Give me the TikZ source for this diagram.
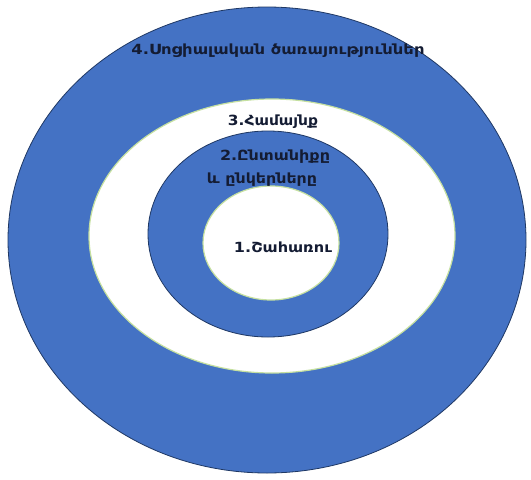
\documentclass[tikz,border=0pt]{standalone}
\usepackage{fontspec}
\setmainfont{DejaVu Sans}
\usepackage{graphicx}
\definecolor{ringblue}{HTML}{4472C4}
\definecolor{navy}{HTML}{1F3864}
\definecolor{edgegreen}{HTML}{C5E0A0}
\definecolor{txtdark}{HTML}{141C33}
\begin{document}
\begin{tikzpicture}[x=1pt,y=-1pt,
  bluering/.style={fill=ringblue,draw=navy,line width=0.8pt},
  whitering/.style={fill=white,draw=edgegreen,line width=1.2pt},
  lbl/.style={inner sep=0pt,text=txtdark,font=\bfseries\fontsize{14}{16}\selectfont}]
\useasboundingbox (0,0) rectangle (531,480);
\fill[white] (0,0) rectangle (531,480);
\path[bluering] (267,240) ellipse [x radius=259,y radius=233];
\path[whitering] (272,236) ellipse [x radius=183,y radius=137];
\path[bluering] (268,234) ellipse [x radius=120,y radius=103];
\path[whitering] (271,243) ellipse [x radius=68,y radius=57];
\node[lbl] (t4) at (278,51) {\resizebox{293pt}{\height}{4.Սոցիալական ծառայություններ}};
\node[lbl] (t3) at (273,122) {\resizebox{90pt}{\height}{3.Համայնք}};
\node[lbl] (t2a) at (275,157) {\resizebox{110pt}{\height}{2.Ընտանիքը}};
\node[lbl] (t2b) at (262,180) {\resizebox{110pt}{\height}{և ընկերները}};
\node[lbl] (t1) at (283,247) {\resizebox{98pt}{\height}{1.Շահառու}};
\end{tikzpicture}
\end{document}
